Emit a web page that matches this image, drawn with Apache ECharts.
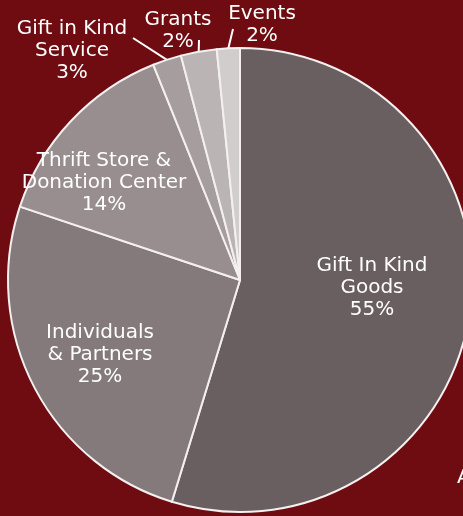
<!DOCTYPE html>
<html>
<head>
<meta charset="utf-8">
<script src="https://cdn.jsdelivr.net/npm/echarts@6/dist/echarts.min.js"></script>
<style>
  html, body { margin: 0; padding: 0; background: #6f0c12; }
  #chart { width: 463px; height: 516px; }
</style>
</head>
<body>
<div id="chart"></div>
<script>
// revenue sources, clockwise from 12 o'clock
const categories = ['Gift In Kind\nGoods', 'Individuals\n& Partners', 'Thrift Store &\nDonation Center', 'Gift in Kind\nService', 'Grants', 'Events']
// slice sizes as drawn (angles)
const shares = [54.8, 25.4, 13.8, 2.0, 2.5, 1.6]
// percentages as printed on the labels
const labelPct = ['55%', '25%', '14%', '3%', '2%', '2%']
const sliceColors = ['#6a5f60', '#847a7b', '#988e8f', '#a69d9e', '#bbb4b4', '#d2cdcd']

// centre of each label block, and where the leader line meets it (outside labels only)
const labelSpots = [
  [372, 288], [100, 355], [104, 183], [72, 51], [178, 31], [262, 25],
]
const leaderEnds = [null, null, null, [133, 38], [199, 40], [233, 29]]

const chart = echarts.init(document.getElementById('chart'))

chart.setOption({
  backgroundColor: '#6f0c12',
  animation: false,
  graphic: [{
    type: 'text', left: 457, top: 468,
    style: { text: 'A', fill: '#ffffff', font: '20px "DejaVu Sans"' },
  }],
  series: [{
    type: 'pie',
    center: [240, 280],
    radius: 232,
    startAngle: 90,
    clockwise: true,
    avoidLabelOverlap: false,
    itemStyle: { borderColor: '#f4f0f0', borderWidth: 2 },
    label: {
      show: true,
      position: 'outside',
      color: '#ffffff',
      fontFamily: 'DejaVu Sans',
      fontSize: 20,
      lineHeight: 22,
      align: 'center',
      formatter: p => p.name + '\n' + labelPct[p.dataIndex],
    },
    labelLine: { show: true, length: 8, length2: 0, lineStyle: { color: '#ffffff', width: 2 } },
    labelLayout: p => {
      const [x, y] = labelSpots[p.dataIndex]
      const out = { x, y, align: 'center', verticalAlign: 'middle' }
      const end = leaderEnds[p.dataIndex]
      if (end && p.labelLinePoints) {
        out.labelLinePoints = [p.labelLinePoints[0], end]
      }
      return out
    },
    data: shares.map((v, i) => ({
      name: categories[i],
      value: v,
      itemStyle: { color: sliceColors[i] },
      labelLine: { show: leaderEnds[i] !== null },
    })),
  }],
})
</script>
</body>
</html>
